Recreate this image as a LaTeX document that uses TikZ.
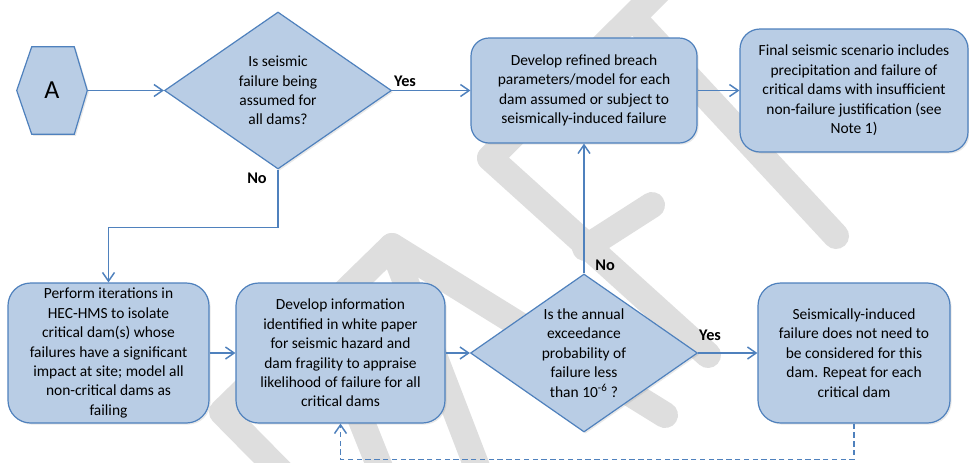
\documentclass[tikz,border=0pt]{standalone}
\usepackage{fontspec}
\setmainfont{Carlito}
\usetikzlibrary{arrows.meta,shapes.geometric,calc,shadows}

\definecolor{boxfill}{RGB}{185,205,229}
\definecolor{boxline}{RGB}{79,129,189}
\definecolor{markgray}{RGB}{222,222,222}

\begin{document}
\begin{tikzpicture}[x=0.75pt,y=-0.75pt,
  every node/.style={inner sep=0pt, align=center,
    font=\fontsize{11.6pt}{14.6pt}\selectfont},
  shapebase/.style={draw=boxline, line width=0.9pt, fill=boxfill,
    drop shadow={shadow xshift=1.2pt, shadow yshift=-1.2pt, opacity=0.18}},
  stepbox/.style={shapebase, rectangle, rounded corners=#1},
  stepbox/.default=17pt,
  decision/.style={shapebase, diamond, aspect=1.45},
  lbl/.style={font=\fontsize{12.2pt}{14pt}\selectfont\bfseries},
  flow/.style={draw=boxline, line width=1.1pt,
    -{Straight Barb[length=6.5pt,width=9pt]}},
  loopback/.style={flow, dash pattern=on 4pt off 2.6pt},
  stamp/.style={draw=markgray, line width=19.5pt, line cap=round, line join=round}
]
\useasboundingbox (0,0) rectangle (969,462);
\fill[white] (0,0) rectangle (969,462);

% faint DRAFT stamp behind the chart
\draw[stamp] (680,-30) -- (490,158) -- (708,355);
\draw[stamp] (585,248) -- (652,205);
\draw[stamp] (640,25) -- (836,236);
\draw[stamp] (482,480) -- (392,246) -- (665,415);
\draw[stamp] (392,246) -- (222,412) -- (290,481);
\draw[stamp] (345,380) -- (385,480);

% start marker
\node[minimum width=52.5pt, minimum height=65.25pt] (hexA) at (52,90.5) {};
\path[shapebase] (hexA.west) -- ($(hexA.north west)+(15,0)$)
  -- ($(hexA.north east)+(-13,0)$) -- (hexA.east)
  -- ($(hexA.south east)+(-13,0)$) -- ($(hexA.south west)+(15,0)$) -- cycle;
\node[font=\fontsize{19.5pt}{22pt}\selectfont] (hexAtext) at (hexA) {A};

% decisions
\node[decision, minimum width=170.25pt, minimum height=117.75pt] (d1) at (278,90.5) {};
\node (d1text) at (d1) {Is seismic\\failure being\\assumed for\\all dams?};

\node[decision, minimum width=170.25pt, minimum height=118.5pt] (d2) at (584,353) {};
\node (d2text) at (d2) {Is the annual\\exceedance\\probability of\\failure less\\than 10\textsuperscript{-6} ?};

% process steps
\node[stepbox=13.5pt, minimum width=169.5pt, minimum height=78.75pt] (b1) at (584,90.5)
  {Develop refined breach\\parameters/model for each\\dam assumed or subject to\\seismically-induced failure};
\node[stepbox=15pt, minimum width=171pt, minimum height=92.25pt] (b2) at (854,90.5)
  {Final seismic scenario includes\\precipitation and failure of\\critical dams with insufficient\\non-failure justification (see\\Note 1)};
\node[stepbox, minimum width=150.75pt, minimum height=105pt] (b3) at (108.5,353)
  {Perform iterations in\\HEC-HMS to isolate\\critical dam(s) whose\\failures have a significant\\impact at site; model all\\non-critical dams as\\failing};
\node[stepbox, minimum width=156.75pt, minimum height=105pt] (b4) at (340.5,353)
  {Develop information\\identified in white paper\\for seismic hazard and\\dam fragility to appraise\\likelihood of failure for all\\critical dams};
\node[stepbox, minimum width=144pt, minimum height=105pt] (b5) at (854,353)
  {Seismically-induced\\failure does not need to\\be considered for this\\dam. Repeat for each\\critical dam};

% connectors
\draw[flow] (hexA.east) -- (d1.west);
\draw[flow] (d1.east) -- (b1.west);
\draw[flow] (b1.east) -- (b2.west);
\draw[flow] (d1.south) -- ++(0,58) -| (b3.north);
\draw[flow] (b3.east) -- (b4.west);
\draw[flow] (b4.east) -- (d2.west);
\draw[flow] (d2.north) -- (b1.south);
\draw[flow] (d2.east) -- (b5.west);
\draw[loopback] (b5.south) -- ++(0,36) -| (b4.south);

% branch labels
\node[lbl] (yes1) at (405,81) {Yes};
\node[lbl] (no1) at (257,178) {No};
\node[lbl] (no2) at (605,265) {No};
\node[lbl] (yes2) at (710,335) {Yes};
\end{tikzpicture}
\end{document}
